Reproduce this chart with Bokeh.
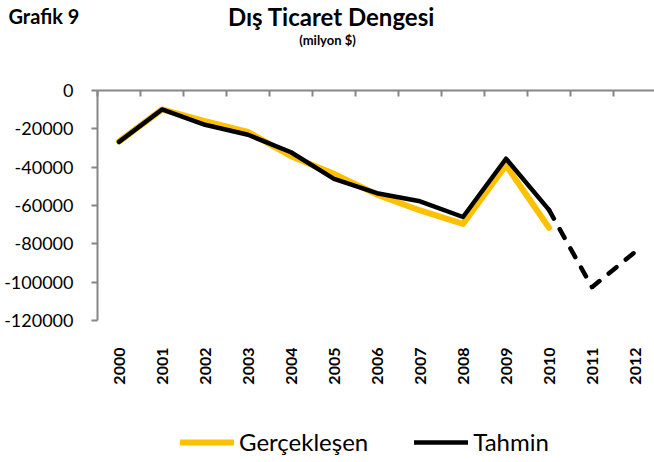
import math
from bokeh.plotting import figure
from bokeh.models import (Range1d, FixedTicker, LinearAxis, NumeralTickFormatter,
                          Label, Legend, LegendItem)
from bokeh.embed import file_html
from bokeh.resources import INLINE

# ---- data (milyon $) ----
years = [2000, 2001, 2002, 2003, 2004, 2005, 2006, 2007, 2008, 2009, 2010, 2011, 2012]
gerceklesen = [-26600, -9900, -16000, -21600, -34300, -43500, -54300, -62600, -69600, -39000, -71600]
tahmin = [-26800, -9900, -17900, -23100, -32200, -46100, -53600, -57800, -66000, -35600, -62300, -102600, -84300]
y_ticks = [0, -20000, -40000, -60000, -80000, -100000, -120000]
category_edges = [y - 0.5 for y in years]

title_text = "Dış Ticaret Dengesi"
subtitle_text = "(milyon $)"
chart_no = "Grafik 9"
legend_labels = ["Gerçekleşen", "Tahmin"]

FONT = "Lato"
GRAY = "#868686"
YELLOW = "#FFC000"

# ---- layout (pixels) ----
W, H = 654, 462
X0_PX, DX_PX = 118.5, 43.0          # centre of first category, category width
Y0_PX, Y_PX_PER = 90.0, 230.0 / 120000  # y=0 position, px per unit
y_min, y_max = min(y_ticks), max(y_ticks)

x_start = years[0] - X0_PX / DX_PX
x_end = years[0] + (W - X0_PX) / DX_PX
y_top = y_max + Y0_PX / Y_PX_PER
y_bottom = y_max - (H - Y0_PX) / Y_PX_PER

p = figure(width=W, height=H, output_backend="svg", toolbar_location=None,
           x_range=Range1d(x_start, x_end), y_range=Range1d(y_bottom, y_top),
           min_border=0)
p.outline_line_color = None
p.xgrid.visible = False
p.ygrid.visible = False

# bottom axis: only the year labels, at the bottom of the value range
xa = p.xaxis[0]
xa.fixed_location = y_min
xa.ticker = FixedTicker(ticks=years)
xa.axis_line_color = None
xa.major_tick_line_color = None
xa.minor_tick_line_color = None
xa.major_label_orientation = math.pi / 2
xa.major_label_standoff = 21
xa.major_label_text_font = FONT
xa.major_label_text_font_style = "bold"
xa.major_label_text_font_size = "16px"
xa.major_label_text_color = "black"

# category axis line at y=0 with ticks between categories
top = LinearAxis(ticker=FixedTicker(ticks=category_edges), fixed_location=y_max,
                 bounds=(category_edges[0], x_end))
top.axis_line_color = GRAY
top.axis_line_width = 2
top.major_tick_line_color = GRAY
top.major_tick_line_width = 2
top.major_tick_in = 6
top.major_tick_out = 0
top.minor_tick_line_color = None
top.major_label_text_font_size = "0px"
top.major_label_text_alpha = 0
top.major_label_standoff = 0
p.add_layout(top, "above")

# value axis
ya = p.yaxis[0]
ya.fixed_location = category_edges[0]
ya.bounds = (y_min, y_max)
ya.ticker = FixedTicker(ticks=y_ticks)
ya.formatter = NumeralTickFormatter(format="0")
ya.axis_line_color = GRAY
ya.axis_line_width = 2
ya.major_tick_line_color = GRAY
ya.major_tick_line_width = 2
ya.major_tick_out = 6
ya.major_tick_in = 0
ya.minor_tick_line_color = None
ya.major_label_standoff = 18
ya.major_label_text_font = FONT
ya.major_label_text_font_size = "18px"
ya.major_label_text_color = "black"

r_g = p.line(years[:len(gerceklesen)], gerceklesen, line_color=YELLOW, line_width=6,
             line_cap="round", line_join="round")
r_t = p.line(years[:11], tahmin[:11], line_color="black", line_width=4.5,
             line_cap="round", line_join="round")
p.line(years[10:], tahmin[10:], line_color="black", line_width=4.5, line_dash="10 12",
       line_cap="round", line_join="round")

legend = Legend(items=[LegendItem(label=legend_labels[0], renderers=[r_g]),
                       LegendItem(label=legend_labels[1], renderers=[r_t])],
                location=(180, 6), orientation="horizontal",
                glyph_width=54, glyph_height=26, label_height=26, label_standoff=5, spacing=46,
                padding=0, margin=0, border_line_color=None, background_fill_alpha=0,
                label_text_font=FONT, label_text_font_size="24px", label_text_color="black",
                label_text_baseline="middle")
p.add_layout(legend)

p.add_layout(Label(x=8, y=H - 15, x_units="screen", y_units="screen", text=chart_no,
                   text_font=FONT, text_font_style="bold", text_font_size="20px",
                   text_baseline="middle", text_align="left", text_color="black"))
p.add_layout(Label(x=331, y=H - 16, x_units="screen", y_units="screen", text=title_text,
                   text_font=FONT, text_font_style="bold", text_font_size="24px",
                   text_baseline="middle", text_align="center", text_color="black"))
p.add_layout(Label(x=327, y=H - 39, x_units="screen", y_units="screen", text=subtitle_text,
                   text_font=FONT, text_font_style="bold", text_font_size="13px",
                   text_baseline="middle", text_align="center", text_color="black"))

open("out.html", "w").write(file_html(p, INLINE))
